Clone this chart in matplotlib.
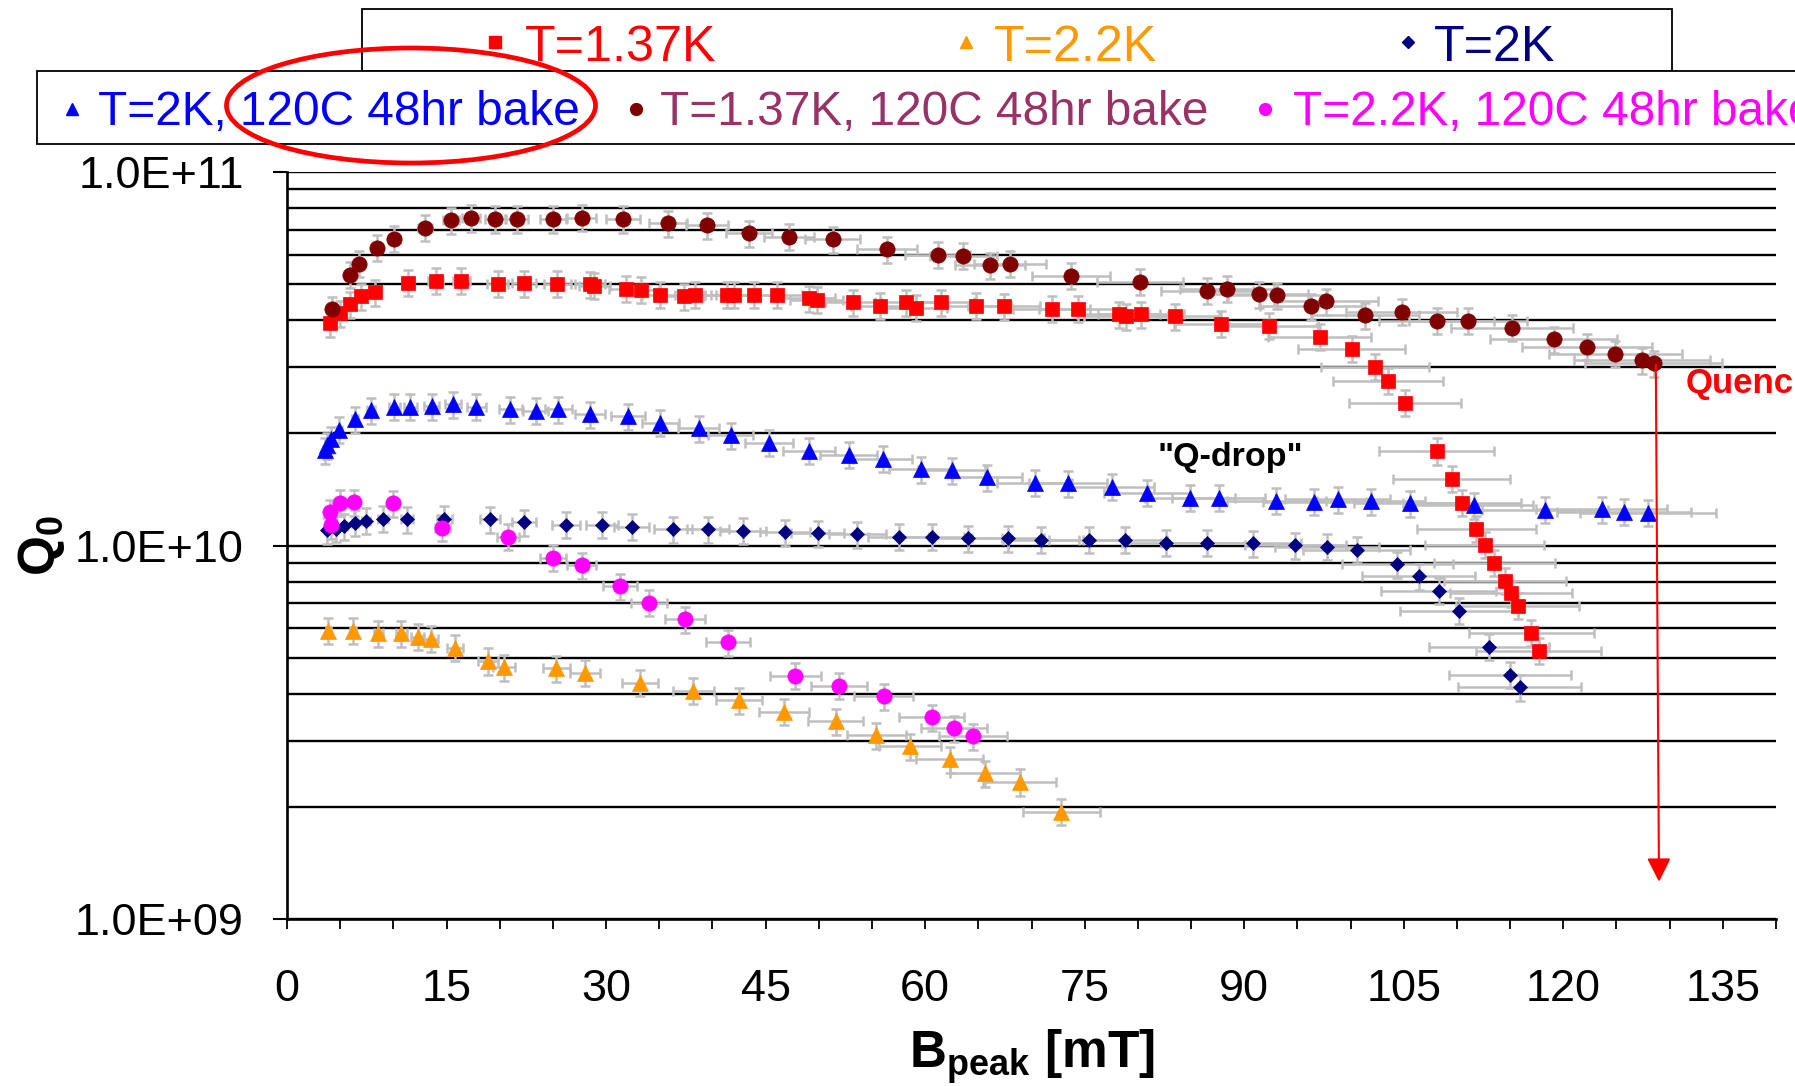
import numpy as np
import matplotlib
matplotlib.use("Agg")
import matplotlib.pyplot as plt
from matplotlib.lines import Line2D
from matplotlib.patches import Rectangle, Ellipse
from matplotlib.ticker import LogLocator, MultipleLocator, NullFormatter

plt.rcParams["font.family"] = ["Liberation Sans", "DejaVu Sans"]
plt.rcParams["mathtext.fontset"] = "custom"
plt.rcParams["mathtext.rm"] = "Liberation Sans"
plt.rcParams["mathtext.bf"] = "Liberation Sans:bold"
plt.rcParams["mathtext.it"] = "Liberation Sans:italic"

# ---------------- data (B_peak in mT, Q0) ----------------
b_137 = [4.0, 5.0, 5.9, 7.0, 8.3, 11.4, 14.0, 16.4, 19.8, 22.3, 25.4, 28.5, 28.9, 31.9, 33.3,
         35.1, 37.3, 38.4, 41.4, 42.0, 43.9, 46.1, 49.1, 49.8, 53.2, 55.8, 58.2, 59.1, 61.5,
         64.8, 67.4, 71.9, 74.4, 78.2, 78.9, 80.3, 83.5, 87.8, 92.3, 97.1, 100.1, 102.3, 103.5,
         105.1, 108.1, 109.5, 110.5, 111.8, 112.6, 113.5, 114.5, 115.1, 115.7, 117.0, 117.7]
q_137 = [3.93e10, 4.18e10, 4.42e10, 4.65e10, 4.76e10, 5.05e10, 5.11e10, 5.11e10, 5.02e10, 5.03e10,
         5.02e10, 5.00e10, 4.95e10, 4.86e10, 4.83e10, 4.69e10, 4.64e10, 4.69e10, 4.69e10, 4.69e10,
         4.69e10, 4.69e10, 4.59e10, 4.55e10, 4.48e10, 4.38e10, 4.47e10, 4.33e10, 4.47e10, 4.38e10,
         4.36e10, 4.30e10, 4.30e10, 4.15e10, 4.10e10, 4.15e10, 4.10e10, 3.92e10, 3.87e10, 3.62e10,
         3.36e10, 3.01e10, 2.76e10, 2.41e10, 1.79e10, 1.51e10, 1.30e10, 1.11e10, 1.005e10, 9.0e9,
         8.05e9, 7.45e9, 6.9e9, 5.85e9, 5.23e9]

b_22 = [3.9, 6.2, 8.6, 10.75, 12.3, 13.5, 15.8, 18.9, 20.4, 25.3, 28.0, 33.2, 38.2, 42.5, 46.7,
        51.6, 55.4, 58.6, 62.3, 65.6, 68.9, 72.8]
q_22 = [5.91e9, 5.91e9, 5.82e9, 5.82e9, 5.70e9, 5.63e9, 5.33e9, 4.91e9, 4.72e9, 4.69e9, 4.57e9,
        4.30e9, 4.09e9, 3.86e9, 3.59e9, 3.39e9, 3.11e9, 2.90e9, 2.68e9, 2.46e9, 2.33e9, 1.94e9]

b_2 = [3.8, 4.6, 5.4, 6.4, 7.4, 9.0, 11.3, 14.8, 19.1, 22.3, 26.2, 29.6, 32.4, 36.3, 39.6, 42.9,
       46.8, 49.9, 53.6, 57.5, 60.6, 64.0, 67.8, 70.9, 75.4, 78.8, 82.6, 86.5, 90.8, 94.8, 97.8,
       100.6, 104.4, 106.4, 108.3, 110.2, 113.0, 115.0, 115.9]
q_2 = [1.10e10, 1.11e10, 1.127e10, 1.15e10, 1.165e10, 1.178e10, 1.175e10, 1.18e10, 1.175e10,
       1.153e10, 1.135e10, 1.135e10, 1.122e10, 1.106e10, 1.104e10, 1.095e10, 1.084e10, 1.078e10,
       1.072e10, 1.056e10, 1.056e10, 1.045e10, 1.045e10, 1.035e10, 1.035e10, 1.035e10, 1.017e10,
       1.017e10, 1.013e10, 1.003e10, 9.93e9, 9.73e9, 8.92e9, 8.28e9, 7.57e9, 6.69e9, 5.36e9,
       4.51e9, 4.18e9]

b_2_bake = [3.6, 3.8, 4.1, 4.9, 6.4, 7.9, 10.1, 11.6, 13.6, 15.6, 17.8, 21.0, 23.4, 25.5, 28.5,
            32.1, 35.1, 38.7, 41.7, 45.3, 49.1, 52.8, 56.0, 59.6, 62.5, 65.8, 70.3, 73.4, 77.6,
            80.9, 84.9, 87.6, 93.0, 96.6, 98.8, 101.9, 105.6, 111.6, 118.3, 123.6, 125.7, 128.0]
q_2_bake = [1.80e10, 1.857e10, 1.923e10, 2.04e10, 2.176e10, 2.304e10, 2.35e10, 2.35e10, 2.36e10,
            2.386e10, 2.35e10, 2.314e10, 2.294e10, 2.314e10, 2.248e10, 2.22e10, 2.13e10, 2.06e10,
            1.972e10, 1.884e10, 1.793e10, 1.75e10, 1.705e10, 1.60e10, 1.592e10, 1.522e10, 1.472e10,
            1.467e10, 1.437e10, 1.384e10, 1.342e10, 1.342e10, 1.318e10, 1.31e10, 1.329e10,
            1.315e10, 1.297e10, 1.283e10, 1.245e10, 1.25e10, 1.231e10, 1.223e10]

b_137_bake = [4.2, 5.9, 6.8, 8.5, 10.1, 13.0, 15.4, 17.3, 19.6, 21.6, 25.0, 27.7, 31.6, 35.8,
              39.5, 43.4, 47.2, 51.3, 56.4, 61.2, 63.6, 66.1, 68.0, 73.7, 80.2, 86.5, 88.4, 91.4,
              93.1, 96.3, 97.7, 101.4, 104.8, 108.1, 111.0, 115.2, 119.1, 122.2, 124.9, 127.4, 128.5]
q_137_bake = [4.285e10, 5.303e10, 5.675e10, 6.262e10, 6.62e10, 7.08e10, 7.413e10, 7.519e10,
              7.473e10, 7.473e10, 7.473e10, 7.532e10, 7.473e10, 7.278e10, 7.188e10, 6.843e10,
              6.701e10, 6.595e10, 6.2e10, 5.998e10, 5.961e10, 5.618e10, 5.675e10, 5.27e10,
              5.078e10, 4.804e10, 4.864e10, 4.699e10, 4.679e10, 4.371e10, 4.5e10, 4.129e10,
              4.222e10, 3.994e10, 3.994e10, 3.826e10, 3.567e10, 3.402e10, 3.259e10, 3.135e10,
              3.072e10]

b_22_bake = [4.0, 4.1, 5.0, 6.3, 10.0, 14.6, 20.8, 25.0, 27.7, 31.3, 34.0, 37.4, 41.5, 47.8,
             51.9, 56.1, 60.6, 62.7, 64.5]
q_22_bake = [1.227e10, 1.134e10, 1.302e10, 1.305e10, 1.297e10, 1.116e10, 1.056e10, 9.275e9,
             8.867e9, 7.79e9, 7.03e9, 6.347e9, 5.508e9, 4.485e9, 4.216e9, 3.957e9, 3.471e9,
             3.243e9, 3.093e9]

labels_row1 = ["T=1.37K", "T=2.2K", "T=2K"]
labels_row2 = ["T=2K, 120C 48hr bake", "T=1.37K, 120C 48hr bake", "T=2.2K, 120C 48hr bake"]

XERR_FRAC = 0.05   # relative field uncertainty
YERR_FRAC = 0.08   # relative Q0 uncertainty

x_ticks = [0, 15, 30, 45, 60, 75, 90, 105, 120, 135]
y_ticks = [1e9, 1e10, 1e11]
y_tick_labels = ["1.0E+09", "1.0E+10", "1.0E+11"]

quench_b = [128.7, 129.0]
quench_q = [3.05e10, 1.26e9]

# ---------------- figure ----------------
W, H = 1795, 1086
fig = plt.figure(figsize=(W / 100, H / 100), dpi=100)
fig.patch.set_facecolor("white")


def fx(px):
    return px / W


def fy(py):
    return 1 - py / H


ax = fig.add_axes([fx(287), fy(919.3), (1776 - 287) / W, (919.3 - 171.7) / H])
ax.set_yscale("log")
ax.set_xlim(0, 140)
ax.set_ylim(1e9, 1e11)
ax.set_axisbelow(True)

series = [
    (b_137, q_137, "s", "#FF0000", 10.5),
    (b_22, q_22, "^", "#FF9900", 11.0),
    (b_2, q_2, "D", "#000080", 7.5),
    (b_2_bake, q_2_bake, "^", "#0000FF", 11.0),
    (b_137_bake, q_137_bake, "o", "#800000", 11.0),
    (b_22_bake, q_22_bake, "o", "#FF00FF", 11.0),
]

for b, q, m, c, ms in series:
    b = np.asarray(b)
    q = np.asarray(q)
    ax.errorbar(b, q, xerr=XERR_FRAC * b, yerr=YERR_FRAC * q, fmt="none",
                ecolor="#BFBFBF", elinewidth=1.8, capsize=3.4, capthick=1.8, zorder=2)
for b, q, m, c, ms in series:
    ax.plot(b, q, linestyle="none", marker=m, color=c, markersize=ms,
            markeredgecolor=c, markeredgewidth=0.5, zorder=3)

# grid
ax.yaxis.set_minor_locator(LogLocator(base=10, subs=np.arange(2, 10)))
ax.yaxis.set_minor_formatter(NullFormatter())
ax.grid(True, axis="y", which="both", color="black", linewidth=1.7)
ax.grid(False, axis="x", which="both")

ax.set_yticks(y_ticks)
ax.set_yticklabels(y_tick_labels)
ax.set_xticks(x_ticks)
ax.set_xticklabels([str(v) for v in x_ticks])
ax.xaxis.set_minor_locator(MultipleLocator(5))

ax.tick_params(axis="y", which="major", direction="out", length=10, width=1.5,
               labelsize=32.4, pad=21)
ax.tick_params(axis="y", which="minor", length=0)
ax.tick_params(axis="x", which="both", direction="out", length=7.5, width=1.3)
ax.tick_params(axis="x", which="major", labelsize=32.4, pad=28)

for s in ["top", "right"]:
    ax.spines[s].set_visible(False)
for s in ["left", "bottom"]:
    ax.spines[s].set_linewidth(1.9)
    ax.spines[s].set_color("black")

ax.set_xlabel(r"$\mathbf{B_{peak}\ [mT]}$", fontsize=37)
ax.xaxis.set_label_coords(0.5, (919.3 - 1027) / (919.3 - 171.7))
ax.set_ylabel(r"$\mathbf{Q_0}$", fontsize=37)
ax.yaxis.set_label_coords((67 - 287) / (1776 - 287), 0.5)

# annotations
ax.text(88.7, 1.72e10, '"Q-drop"', ha="center", va="center", fontsize=24.5,
        fontweight="bold", color="black", zorder=5)
ax.text(131.5, 2.72e10, "Quench", ha="left", va="center", fontsize=25,
        fontweight="bold", color="red", clip_on=False, zorder=5)
ax.annotate("", xy=(quench_b[1], quench_q[1]), xytext=(quench_b[0], quench_q[0]),
            arrowprops=dict(arrowstyle="-|>,head_length=0.4,head_width=0.2", color="red",
                            lw=1.5, mutation_scale=36, shrinkA=0, shrinkB=0),
            zorder=6, annotation_clip=False)

# ---------------- legends (drawn as figure artists) ----------------
fig.add_artist(Rectangle((fx(362), fy(70.7)), (1672 - 362) / W, (70.7 - 8.5) / H,
                         transform=fig.transFigure, facecolor="white", edgecolor="black",
                         linewidth=1.3, zorder=1))
fig.add_artist(Rectangle((fx(36.6), fy(144)), (1900 - 36.6) / W, (144 - 70.7) / H,
                         transform=fig.transFigure, facecolor="white", edgecolor="black",
                         linewidth=1.3, zorder=1))

row1 = [(494.6, 525, "s", "#FF0000", "#FF0000", 9.0),
        (966, 994, "^", "#FF9900", "#FF9900", 9.0),
        (1408, 1433.5, "D", "#000080", "#000080", 6.3)]
for (mx, tx, m, mc, tc, ms), lab in zip(row1, labels_row1):
    fig.add_artist(Line2D([fx(mx)], [fy(41.5)], marker=m, color=mc, markersize=ms,
                          linestyle="none", transform=fig.transFigure, zorder=2))
    fig.text(fx(tx), fy(60.7), lab, color=tc, fontsize=36.2, ha="left", va="baseline",
             zorder=2)

row2 = [(71.7, 98.3, "^", "#0000FF", "#0000FF", 8.5),
        (636, 660.5, "o", "#800000", "#993366", 8.5),
        (1265, 1293, "o", "#FF00FF", "#FF00FF", 8.5)]
for (mx, tx, m, mc, tc, ms), lab in zip(row2, labels_row2):
    fig.add_artist(Line2D([fx(mx)], [fy(109)], marker=m, color=mc, markersize=ms,
                          linestyle="none", transform=fig.transFigure, zorder=2))
    fig.text(fx(tx), fy(125), lab, color=tc, fontsize=34.4, ha="left", va="baseline",
             zorder=2)

# red highlight ellipse
fig.add_artist(Ellipse((fx(411), fy(105.5)), 369 / W, 115 / H, transform=fig.transFigure,
                       fill=False, edgecolor="#FF0000", linewidth=3.4, zorder=10))

fig.savefig("out.png", dpi=100, facecolor="white")
